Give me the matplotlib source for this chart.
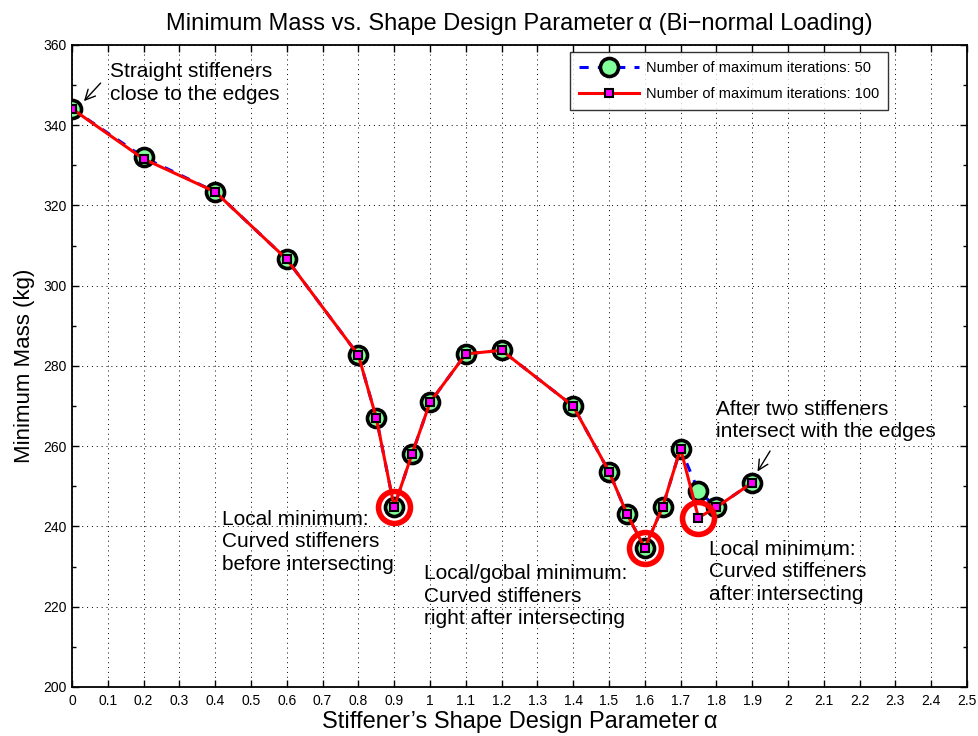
import matplotlib
matplotlib.use("Agg")
import matplotlib.pyplot as plt
from matplotlib.ticker import MultipleLocator

plt.rcParams['font.family'] = ['Liberation Sans', 'DejaVu Sans']

# Shape design parameter alpha and minimum mass (kg)
alpha = [0.0, 0.2, 0.4, 0.6, 0.8, 0.85, 0.9, 0.95, 1.0, 1.1, 1.2, 1.4,
         1.5, 1.55, 1.6, 1.65, 1.7, 1.75, 1.8, 1.9]
mass_50 = [344.1, 332.0, 323.4, 306.6, 282.7, 267.1, 244.9, 258.1, 270.9,
           283.0, 283.9, 270.0, 253.7, 243.2, 234.6, 244.9, 259.4, 248.8,
           244.8, 250.9]
mass_100 = [344.1, 331.6, 323.4, 306.6, 282.7, 267.1, 244.9, 258.1, 270.9,
            283.0, 283.9, 270.0, 253.7, 243.2, 234.6, 244.9, 259.4, 242.2,
            244.8, 250.9]

# Highlighted local minima
minima_alpha = [0.9, 1.6, 1.75]
minima_mass = [244.9, 234.6, 242.2]

xticks = [round(0.1 * i, 1) for i in range(26)]
xticklabels = ['0', '0.1', '0.2', '0.3', '0.4', '0.5', '0.6', '0.7', '0.8', '0.9',
               '1', '1.1', '1.2', '1.3', '1.4', '1.5', '1.6', '1.7', '1.8', '1.9',
               '2', '2.1', '2.2', '2.3', '2.4', '2.5']
yticks = [200, 220, 240, 260, 280, 300, 320, 340, 360]

fig = plt.figure(figsize=(9.79, 7.36), dpi=100)
ax = fig.add_axes([0.0735, 0.0666, 0.9142, 0.8723])

ax.plot(alpha, mass_50, linestyle='--', color='#0000ff', linewidth=2.2,
        dashes=(3, 3), marker='o', markersize=13, markerfacecolor='#80ff9a',
        markeredgecolor='black', markeredgewidth=2.6,
        label='Number of maximum iterations: 50', zorder=3)
ax.plot(alpha, mass_100, linestyle='-', color='#ff0000', linewidth=2.2,
        marker='s', markersize=5.5, markerfacecolor='#ff00ff',
        markeredgecolor='black', markeredgewidth=1.5,
        label='Number of maximum iterations: 100', zorder=4)
ax.plot(minima_alpha, minima_mass, linestyle='none', marker='o', markersize=23,
        markerfacecolor='none', markeredgecolor='#ff0000', markeredgewidth=4,
        zorder=5)

ax.set_xlim(0, 2.5)
ax.set_ylim(200, 360)
ax.set_xticks(xticks)
ax.set_xticklabels(xticklabels)
ax.set_yticks(yticks)
ax.yaxis.set_minor_locator(MultipleLocator(10))
ax.tick_params(axis='both', which='both', direction='in', top=True, right=True,
               labelsize=10, width=1)
ax.tick_params(axis='both', which='major', length=5)
ax.tick_params(axis='x', which='major', pad=5)
ax.tick_params(axis='y', which='minor', length=3)
ax.grid(True, which='major', linestyle=(0, (1, 4)), color='black', linewidth=0.7)
for s in ax.spines.values():
    s.set_linewidth(1.3)

ax.set_title('Minimum Mass vs. Shape Design Parameter\u2009α (Bi\u2212normal Loading)',
             fontsize=17, pad=11)
ax.set_xlabel('Stiffener\u2019s Shape Design Parameter\u2009α', fontsize=17, labelpad=2)
ax.set_ylabel('Minimum Mass (kg)', fontsize=16, labelpad=6)

leg = ax.legend(loc='upper right', bbox_to_anchor=(0.912, 0.989), fontsize=10.5,
                frameon=True, fancybox=False, borderpad=0.6, labelspacing=0.85,
                handlelength=4.1, handletextpad=0.5, borderaxespad=0)
leg.get_frame().set_edgecolor('black')
leg.get_frame().set_linewidth(1.0)

ann_kw = dict(fontsize=15, ha='left', va='top', linespacing=1.25)
arrow = dict(arrowstyle='->', color='black', lw=1, mutation_scale=18,
             shrinkA=0, shrinkB=0)
ax.text(0.106, 355.8, 'Straight stiffeners\nclose to the edges', **ann_kw)
ax.annotate('', xy=(0.0335, 346.0), xytext=(0.080, 350.5), arrowprops=arrow)
ax.text(1.799, 271.6, 'After two stiffeners\nintersect with the edges', **ann_kw)
ax.annotate('', xy=(1.915, 253.7), xytext=(1.950, 258.8), arrowprops=arrow)
ax.text(0.418, 244.2, 'Local minimum:\nCurved stiffeners\nbefore intersecting', **ann_kw)
ax.text(0.983, 230.7, 'Local/gobal minimum:\nCurved stiffeners\nright after intersecting', **ann_kw)
ax.text(1.779, 236.7, 'Local minimum:\nCurved stiffeners\nafter intersecting', **ann_kw)

fig.savefig('out.png', dpi=100)
